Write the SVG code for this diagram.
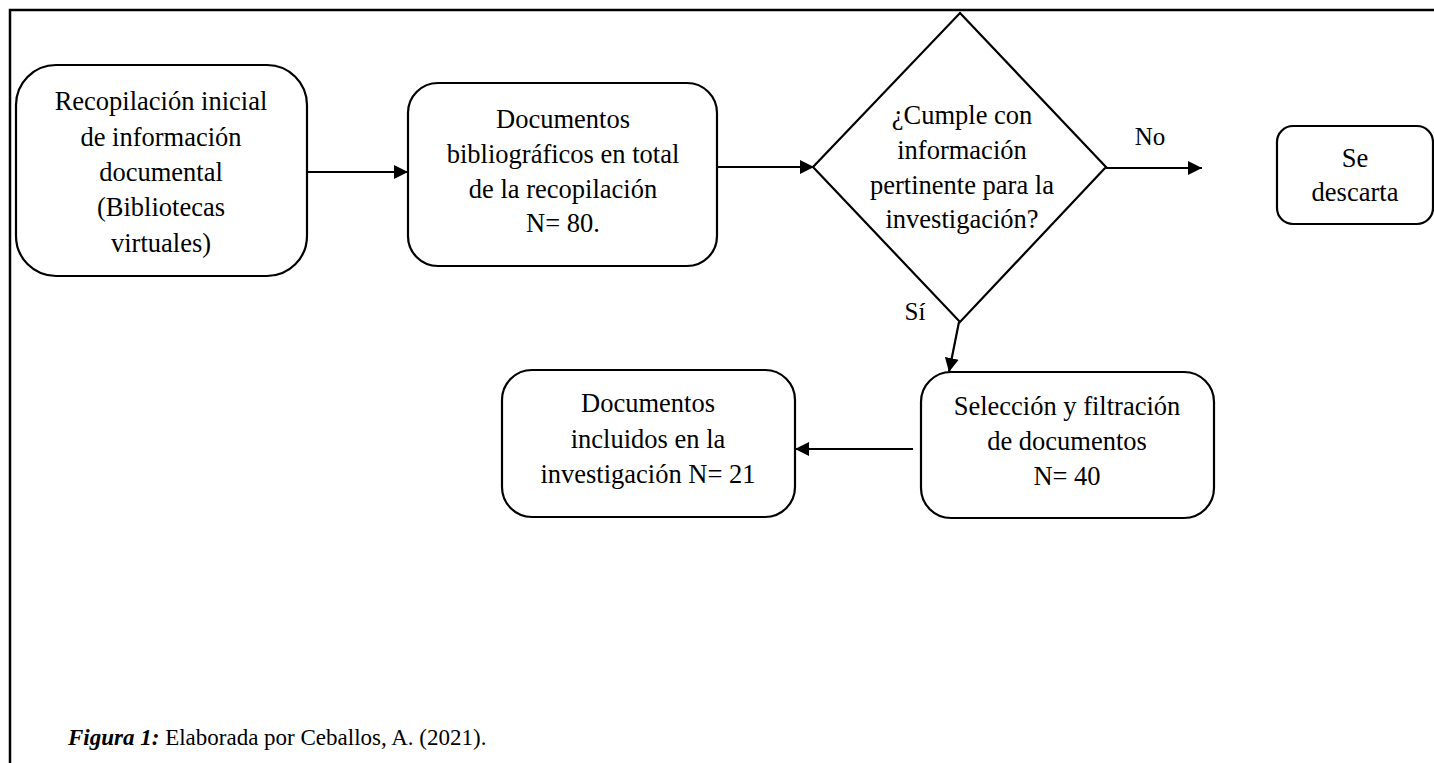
<svg xmlns="http://www.w3.org/2000/svg" width="1434" height="763" viewBox="0 0 1434 763">
<defs>
<style>
.box{fill:#fff;stroke:#000;stroke-width:2.2}
.t{font-family:"Liberation Serif","Times New Roman",serif;font-size:26.5px;fill:#000;text-anchor:middle}
.c{stroke:#000;stroke-width:2.2;fill:none}
.frame{stroke:#000;stroke-width:2.5;fill:none}
.cap{font-family:"Liberation Serif","Times New Roman",serif;font-size:23px;fill:#000}
</style>
<marker id="ah" markerUnits="userSpaceOnUse" markerWidth="16" markerHeight="16" viewBox="0 0 16 16" refX="14" refY="8" orient="auto">
<path d="M0,1 L14,8 L0,15 Z" fill="#000"/>
</marker>
</defs>
<rect width="1434" height="763" fill="#fff"/>
<path class="frame" d="M10,763 L10,10 L1434,10"/>

<g id="n1">
<rect class="box" x="16" y="65" width="291" height="211" rx="40" ry="40"/>
<text class="t" x="161" y="110">Recopilación inicial</text>
<text class="t" x="161" y="146">de información</text>
<text class="t" x="161" y="181">documental</text>
<text class="t" x="161" y="216">(Bibliotecas</text>
<text class="t" x="161" y="252">virtuales)</text>
</g>

<g id="n2">
<rect class="box" x="408" y="83" width="309" height="183" rx="30" ry="30"/>
<text class="t" x="563" y="128">Documentos</text>
<text class="t" x="563" y="163">bibliográficos en total</text>
<text class="t" x="563" y="198">de la recopilación</text>
<text class="t" x="563" y="232">N= 80.</text>
</g>

<g id="n3">
<path class="box" d="M960,13 L1106,167 L960,322 L813,167 Z"/>
<text class="t" x="962" y="124">¿Cumple con</text>
<text class="t" x="962" y="159">información</text>
<text class="t" x="962" y="194">pertinente para la</text>
<text class="t" x="962" y="228">investigación?</text>
</g>

<g id="n4">
<rect class="box" x="1277" y="126" width="156" height="98" rx="16" ry="16"/>
<text class="t" x="1355" y="167">Se</text>
<text class="t" x="1355" y="201">descarta</text>
</g>

<g id="n5">
<rect class="box" x="921" y="372" width="293" height="146" rx="30" ry="30"/>
<text class="t" x="1067" y="415">Selección y filtración</text>
<text class="t" x="1067" y="450">de documentos</text>
<text class="t" x="1067" y="485">N= 40</text>
</g>

<g id="n6">
<rect class="box" x="502" y="370" width="293" height="147" rx="30" ry="30"/>
<text class="t" x="648" y="412">Documentos</text>
<text class="t" x="648" y="448">incluidos en la</text>
<text class="t" x="648" y="483">investigación N= 21</text>
</g>

<g id="connectors">
<line class="c" x1="307" y1="172" x2="408" y2="172" marker-end="url(#ah)"/>
<line class="c" x1="717" y1="167" x2="814" y2="167" marker-end="url(#ah)"/>
<line class="c" x1="1106" y1="168" x2="1202" y2="168" marker-end="url(#ah)"/>
<line class="c" x1="959" y1="322" x2="949" y2="372" marker-end="url(#ah)"/>
<line class="c" x1="913" y1="449" x2="795" y2="449" marker-end="url(#ah)"/>
<text class="t" x="1150" y="145" style="font-size:25px">No</text>
<text class="t" x="915" y="320" style="font-size:25px">Sí</text>
</g>

<g id="caption">
<text class="cap" x="68" y="745"><tspan font-weight="bold" font-style="italic">Figura 1:</tspan> Elaborada por Ceballos, A. (2021).</text>
</g>
</svg>
